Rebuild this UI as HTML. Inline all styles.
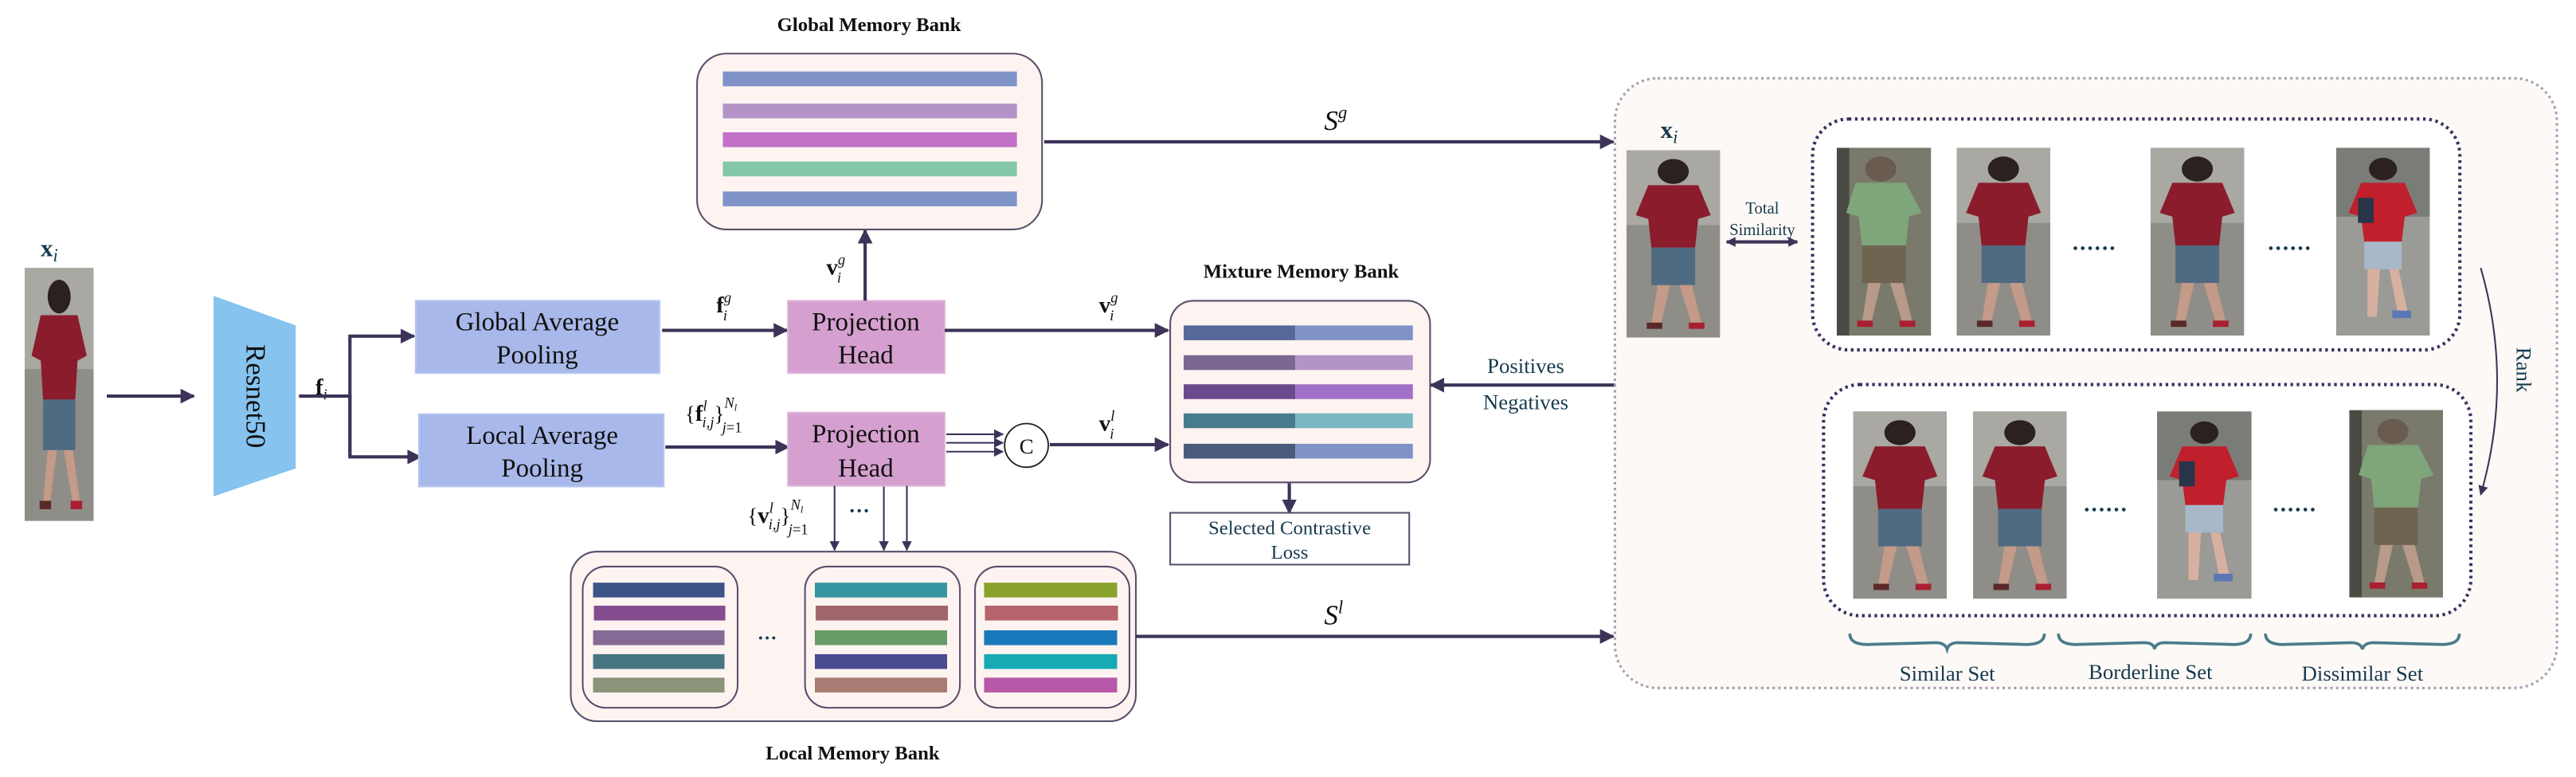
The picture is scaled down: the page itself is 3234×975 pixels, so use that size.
<!DOCTYPE html>
<html><head><meta charset="utf-8"><style>
html,body{margin:0;padding:0;background:#fff;}
svg{display:block;font-family:"Liberation Serif","DejaVu Serif",serif;}
svg text{font-family:"Liberation Serif","DejaVu Serif",serif !important;}
</style></head><body>
<svg width="3234" height="975" viewBox="0 0 1568 472.73" xmlns="http://www.w3.org/2000/svg" font-family="Liberation Serif, DejaVu Serif, serif">
<defs>
<marker id="ahb" viewBox="0 0 10 10" refX="9" refY="5" markerWidth="9" markerHeight="9" orient="auto-start-reverse" markerUnits="userSpaceOnUse"><path d="M0,0 L10,5 L0,10 z" fill="#3d3358"/></marker>
<marker id="ahs" viewBox="0 0 10 10" refX="9" refY="5" markerWidth="6" markerHeight="6" orient="auto-start-reverse" markerUnits="userSpaceOnUse"><path d="M0,0 L10,5 L0,10 z" fill="#3d3358"/></marker>
<symbol id="pr" viewBox="0 0 60 150" preserveAspectRatio="none">
<rect width="60" height="150" fill="#8f8d88"/>
<rect width="60" height="60" fill="#a9a8a3"/>
<circle cx="30" cy="17" r="10" fill="#2b2220"/>
<path d="M14,28 L46,28 L54,52 L46,55 L44,78 L16,78 L14,55 L6,52 Z" fill="#8b1c2c"/>
<rect x="16" y="78" width="28" height="30" fill="#4f6b82"/>
<path d="M20,108 L28,108 L22,140 L16,140 Z" fill="#c49a88"/>
<path d="M34,108 L42,108 L48,138 L42,140 Z" fill="#c49a88"/>
<rect x="13" y="138" width="10" height="5" fill="#5a2a2a"/><rect x="40" y="138" width="10" height="5" fill="#a82030"/>
</symbol>
<symbol id="pg" viewBox="0 0 60 150" preserveAspectRatio="none">
<rect width="60" height="150" fill="#4a4a42"/>
<rect x="8" width="52" height="150" fill="#7a7a6c"/>
<circle cx="28" cy="17" r="10" fill="#6a5a50"/>
<path d="M12,28 L44,28 L54,52 L46,55 L44,78 L16,78 L14,55 L6,52 Z" fill="#7fa67a"/>
<rect x="16" y="78" width="28" height="30" fill="#6e6450"/>
<path d="M20,108 L28,108 L22,140 L16,140 Z" fill="#b89a88"/>
<path d="M34,108 L42,108 L48,138 L42,140 Z" fill="#b89a88"/>
<rect x="13" y="138" width="10" height="5" fill="#a82030"/><rect x="40" y="138" width="10" height="5" fill="#a82030"/>
</symbol>
<symbol id="pw" viewBox="0 0 60 150" preserveAspectRatio="none">
<rect width="60" height="150" fill="#9a9a96"/>
<rect width="60" height="55" fill="#7a7c78"/>
<circle cx="30" cy="17" r="9" fill="#2b2220"/>
<path d="M16,28 L44,28 L52,52 L44,55 L42,75 L18,75 L16,55 L8,52 Z" fill="#c0202c"/>
<rect x="14" y="40" width="10" height="20" fill="#2a3448"/>
<rect x="18" y="75" width="24" height="22" fill="#a8b8c8"/>
<path d="M20,97 L28,97 L26,135 L20,135 Z" fill="#d8b0a0"/>
<path d="M34,97 L40,97 L46,132 L40,135 Z" fill="#d8b0a0"/>
<rect x="36" y="130" width="12" height="6" fill="#5a78b8"/>
</symbol>
</defs>

<!-- Left input -->
<text x="30" y="156" font-size="15" font-weight="bold" fill="#163a4e" text-anchor="middle">x<tspan font-size="11" font-style="italic" font-weight="normal" dy="3">i</tspan></text>
<use href="#pr" x="15" y="163" width="42" height="154"/>
<line x1="65" y1="241" x2="118" y2="241" stroke="#3d3358" stroke-width="2" marker-end="url(#ahb)"/>
<polygon points="130,180 180,198 180,285 130,302" fill="#86c3ee"/>
<text transform="translate(150,241) rotate(90)" font-size="17" text-anchor="middle" fill="#111">Resnet50</text>
<text x="192" y="240" font-size="14" font-weight="bold" fill="#111">f<tspan font-size="9" font-style="italic" font-weight="normal" dy="3">i</tspan></text>
<line x1="182" y1="241" x2="214" y2="241" stroke="#3d3358" stroke-width="2"/>
<polyline points="213,278 213,204.5 252,204.5" fill="none" stroke="#3d3358" stroke-width="2" marker-end="url(#ahb)"/>
<polyline points="213,241 213,278 256,278" fill="none" stroke="#3d3358" stroke-width="2" marker-end="url(#ahb)"/>

<!-- pooling boxes -->
<rect x="253" y="183" width="148.5" height="44" fill="#a8b8ea" stroke="#b8c6f0" stroke-width="1"/>
<text x="327" y="201" font-size="16" text-anchor="middle" fill="#111">Global Average</text>
<text x="327" y="221" font-size="16" text-anchor="middle" fill="#111">Pooling</text>
<rect x="255" y="252" width="149" height="44" fill="#a8b8ea" stroke="#b8c6f0" stroke-width="1"/>
<text x="330" y="270" font-size="16" text-anchor="middle" fill="#111">Local Average</text>
<text x="330" y="290" font-size="16" text-anchor="middle" fill="#111">Pooling</text>

<line x1="403" y1="201" x2="479" y2="201" stroke="#3d3358" stroke-width="2" marker-end="url(#ahb)"/>
<text x="436" y="190" font-size="14" font-weight="bold" fill="#111">f<tspan font-size="9" font-style="italic" font-weight="normal" dy="-6">g</tspan><tspan font-size="9" font-style="italic" font-weight="normal" dx="-5" dy="11">i</tspan></text>
<line x1="405" y1="272" x2="480" y2="272" stroke="#3d3358" stroke-width="2" marker-end="url(#ahb)"/>
<text x="417" y="256" font-size="13" fill="#111">{<tspan font-weight="bold" font-size="14">f</tspan><tspan font-size="9" font-style="italic" dy="-6">l</tspan><tspan font-size="9" font-style="italic" dx="-3" dy="10">i,j</tspan><tspan dy="-4">}</tspan><tspan font-size="9" font-style="italic" dy="-8">N</tspan><tspan font-size="6" font-style="italic" dy="2">l</tspan><tspan font-size="9" font-style="italic" dx="-9" dy="13">j</tspan><tspan font-size="9" dy="0">=1</tspan></text>

<!-- projection heads -->
<rect x="479.6" y="183" width="95.4" height="44" fill="#d5a0cf" stroke="#e0b4da" stroke-width="1"/>
<text x="527" y="201" font-size="16" text-anchor="middle" fill="#111">Projection</text>
<text x="527" y="221" font-size="16" text-anchor="middle" fill="#111">Head</text>
<rect x="479.6" y="251" width="95.4" height="44.6" fill="#d5a0cf" stroke="#e0b4da" stroke-width="1"/>
<text x="527" y="269" font-size="16" text-anchor="middle" fill="#111">Projection</text>
<text x="527" y="290" font-size="16" text-anchor="middle" fill="#111">Head</text>

<line x1="526.6" y1="183" x2="526.6" y2="140" stroke="#3d3358" stroke-width="2" marker-end="url(#ahb)"/>
<text x="503" y="167" font-size="14" font-weight="bold" fill="#111">v<tspan font-size="9" font-style="italic" font-weight="normal" dy="-6">g</tspan><tspan font-size="9" font-style="italic" font-weight="normal" dx="-5" dy="11">i</tspan></text>

<!-- Global memory bank -->
<text x="529" y="19" font-size="12" font-weight="bold" text-anchor="middle" fill="#111">Global Memory Bank</text>
<rect x="424.3" y="32.6" width="210" height="107" rx="18" fill="#fdf4f1" stroke="#5a4e6a" stroke-width="1"/>
<rect x="440" y="43.5" width="179" height="9" fill="#7f93c8"/>
<rect x="440" y="63" width="179" height="9" fill="#b494c8"/>
<rect x="440" y="80.5" width="179" height="9" fill="#c270c8"/>
<rect x="440" y="98.3" width="179" height="9" fill="#84c7a8"/>
<rect x="440" y="116.5" width="179" height="9" fill="#7f93c8"/>
<line x1="635.6" y1="86.3" x2="982" y2="86.3" stroke="#3d3358" stroke-width="2" marker-end="url(#ahb)"/>
<text x="806" y="79" font-size="17" font-style="italic" fill="#111">S<tspan font-size="11" dy="-7">g</tspan></text>

<!-- to mixture -->
<line x1="575" y1="201" x2="711" y2="201" stroke="#3d3358" stroke-width="2" marker-end="url(#ahb)"/>
<text x="669" y="190" font-size="14" font-weight="bold" fill="#111">v<tspan font-size="9" font-style="italic" font-weight="normal" dy="-6">g</tspan><tspan font-size="9" font-style="italic" font-weight="normal" dx="-5" dy="11">i</tspan></text>
<line x1="576" y1="264.2" x2="610.5" y2="264.2" stroke="#3d3358" stroke-width="1" marker-end="url(#ahs)"/>
<line x1="576" y1="269.4" x2="610.5" y2="269.4" stroke="#3d3358" stroke-width="1" marker-end="url(#ahs)"/>
<line x1="576" y1="274.8" x2="610.5" y2="274.8" stroke="#3d3358" stroke-width="1" marker-end="url(#ahs)"/>
<circle cx="624.8" cy="271" r="13.3" fill="#fff" stroke="#222" stroke-width="0.9"/>
<text x="624.8" y="276" font-size="13" text-anchor="middle" fill="#111">C</text>
<line x1="639" y1="270.5" x2="711" y2="270.5" stroke="#3d3358" stroke-width="2" marker-end="url(#ahb)"/>
<text x="669" y="262" font-size="14" font-weight="bold" fill="#111">v<tspan font-size="9" font-style="italic" font-weight="normal" dy="-6">l</tspan><tspan font-size="9" font-style="italic" font-weight="normal" dx="-3" dy="11">i</tspan></text>

<!-- Mixture memory bank -->
<text x="792" y="169" font-size="12" font-weight="bold" text-anchor="middle" fill="#111">Mixture Memory Bank</text>
<rect x="712.3" y="183" width="158.2" height="110.5" rx="14" fill="#fdf4f1" stroke="#5a4e6a" stroke-width="1"/>
<rect x="720.5" y="198" width="68" height="9" fill="#566a9a"/><rect x="788.5" y="198" width="71.5" height="9" fill="#7f93c8"/>
<rect x="720.5" y="216.1" width="68" height="9" fill="#7a6890"/><rect x="788.5" y="216.1" width="71.5" height="9" fill="#b494c8"/>
<rect x="720.5" y="233.8" width="68" height="9" fill="#6a4a8c"/><rect x="788.5" y="233.8" width="71.5" height="9" fill="#a070c8"/>
<rect x="720.5" y="251.5" width="68" height="9" fill="#467c8c"/><rect x="788.5" y="251.5" width="71.5" height="9" fill="#7ab8c4"/>
<rect x="720.5" y="270" width="68" height="9" fill="#4a5a7c"/><rect x="788.5" y="270" width="71.5" height="9" fill="#7f93c8"/>
<line x1="784.8" y1="294" x2="784.8" y2="312" stroke="#3d3358" stroke-width="2" marker-end="url(#ahb)"/>
<rect x="712.3" y="312" width="145.5" height="31.5" fill="#fff" stroke="#5a4e6a" stroke-width="1"/>
<text x="785" y="325" font-size="12" text-anchor="middle" fill="#163a4e">Selected Contrastive</text>
<text x="785" y="340" font-size="12" text-anchor="middle" fill="#163a4e">Loss</text>
<line x1="983" y1="234.3" x2="871" y2="234.3" stroke="#3d3358" stroke-width="2" marker-end="url(#ahb)"/>
<text x="928.7" y="227" font-size="13" text-anchor="middle" fill="#163a4e">Positives</text>
<text x="928.7" y="249" font-size="13" text-anchor="middle" fill="#163a4e">Negatives</text>

<!-- local arrows -->
<line x1="508" y1="295.6" x2="508" y2="334.7" stroke="#3d3358" stroke-width="1" marker-end="url(#ahs)"/>
<line x1="538" y1="296" x2="538" y2="334.7" stroke="#3d3358" stroke-width="1" marker-end="url(#ahs)"/>
<line x1="552" y1="295.6" x2="552" y2="334.7" stroke="#3d3358" stroke-width="1" marker-end="url(#ahs)"/>
<text x="455" y="318" font-size="13" fill="#111">{<tspan font-weight="bold" font-size="14">v</tspan><tspan font-size="9" font-style="italic" dy="-6">l</tspan><tspan font-size="9" font-style="italic" dx="-3" dy="10">i,j</tspan><tspan dy="-4">}</tspan><tspan font-size="9" font-style="italic" dy="-8">N</tspan><tspan font-size="6" font-style="italic" dy="2">l</tspan><tspan font-size="9" font-style="italic" dx="-9" dy="13">j</tspan><tspan font-size="9" dy="0">=1</tspan></text>
<text x="523" y="315" font-size="13" font-weight="bold" text-anchor="middle" fill="#163a4e">···</text>

<!-- Local memory bank -->
<rect x="347.4" y="335.6" width="344" height="103.2" rx="16" fill="#fdf4f1" stroke="#5a4e6a" stroke-width="1"/>
<rect x="354.7" y="344.7" width="94.3" height="85.9" rx="14" fill="#fdf4f1" stroke="#5a4e6a" stroke-width="1"/>
<rect x="490" y="344.7" width="94.3" height="85.9" rx="14" fill="#fdf4f1" stroke="#5a4e6a" stroke-width="1"/>
<rect x="593.5" y="344.7" width="94" height="85.9" rx="14" fill="#fdf4f1" stroke="#5a4e6a" stroke-width="1"/>
<g>
<rect x="361" y="354.5" width="80" height="9" fill="#3d5488"/>
<rect x="361.5" y="368.5" width="80" height="9" fill="#854c90"/>
<rect x="361" y="383.5" width="80" height="9" fill="#856a96"/>
<rect x="361" y="398" width="80" height="9" fill="#477682"/>
<rect x="361" y="412.3" width="80" height="9" fill="#8a9478"/>
<rect x="496" y="354.5" width="80.5" height="9" fill="#3595a0"/>
<rect x="496.5" y="368.5" width="80.5" height="9" fill="#a0656a"/>
<rect x="496" y="383.5" width="80.5" height="9" fill="#689c68"/>
<rect x="496" y="398" width="80.5" height="9" fill="#4a4c90"/>
<rect x="496" y="412.3" width="80.5" height="9" fill="#a87c72"/>
<rect x="599" y="354.5" width="81" height="9" fill="#89a22c"/>
<rect x="599.5" y="368.5" width="81" height="9" fill="#b5636c"/>
<rect x="599" y="383.5" width="81" height="9" fill="#1a78bc"/>
<rect x="599" y="398" width="81" height="9" fill="#17a9b4"/>
<rect x="599" y="412.3" width="81" height="9" fill="#b858a8"/>
</g>
<text x="467" y="392" font-size="12" font-weight="bold" text-anchor="middle" fill="#163a4e">···</text>
<text x="519" y="462" font-size="12" font-weight="bold" text-anchor="middle" fill="#111">Local Memory Bank</text>
<line x1="691.4" y1="387.2" x2="982" y2="387.2" stroke="#3d3358" stroke-width="2" marker-end="url(#ahb)"/>
<text x="806" y="380" font-size="17" font-style="italic" fill="#111">S<tspan font-size="11" dy="-7">l</tspan></text>

<!-- Right panel -->
<rect x="983" y="47.6" width="573.4" height="371" rx="26" fill="#fdf9f6" stroke="#a79fb0" stroke-width="1.5" stroke-dasharray="1.5,2"/>
<text x="1016" y="84" font-size="15" font-weight="bold" fill="#163a4e" text-anchor="middle">x<tspan font-size="11" font-style="italic" font-weight="normal" dy="3">i</tspan></text>
<use href="#pr" x="990" y="91.4" width="57" height="114"/>
<text x="1072.7" y="130" font-size="10" text-anchor="middle" fill="#163a4e">Total</text>
<text x="1072.7" y="143" font-size="10" text-anchor="middle" fill="#163a4e">Similarity</text>
<line x1="1051" y1="147.2" x2="1094" y2="147.2" stroke="#3d3358" stroke-width="2" marker-start="url(#ahs)" marker-end="url(#ahs)"/>

<rect x="1103.3" y="72.4" width="394" height="140.5" rx="22" fill="#fff" stroke="#3a3060" stroke-width="2" stroke-dasharray="1.6,2.2"/>
<use href="#pg" x="1118" y="89.9" width="57.4" height="114.3"/>
<use href="#pr" x="1191" y="89.9" width="57" height="114.3"/>
<use href="#pr" x="1309" y="89.9" width="57" height="114.3"/>
<use href="#pw" x="1422" y="89.9" width="57" height="114.3"/>
<text x="1275" y="152" font-size="14" font-weight="bold" text-anchor="middle" fill="#163a4e" letter-spacing="1">......</text>
<text x="1394" y="152" font-size="14" font-weight="bold" text-anchor="middle" fill="#163a4e" letter-spacing="1">......</text>

<rect x="1110" y="234" width="394" height="140.6" rx="22" fill="#fff" stroke="#3a3060" stroke-width="2" stroke-dasharray="1.6,2.2"/>
<use href="#pr" x="1128" y="250.3" width="57" height="114"/>
<use href="#pr" x="1201" y="250.3" width="57" height="114"/>
<use href="#pw" x="1313" y="250.3" width="57.5" height="114"/>
<use href="#pg" x="1430" y="249.5" width="57" height="114"/>
<text x="1282" y="311" font-size="14" font-weight="bold" text-anchor="middle" fill="#163a4e" letter-spacing="1">......</text>
<text x="1397" y="311" font-size="14" font-weight="bold" text-anchor="middle" fill="#163a4e" letter-spacing="1">......</text>

<path d="M1510,163 Q1530,232 1510,301" fill="none" stroke="#3d3358" stroke-width="1" marker-end="url(#ahs)"/>
<text transform="translate(1532,225) rotate(90)" font-size="13" text-anchor="middle" fill="#163a4e">Rank</text>

<g fill="none" stroke="#4a7c8c" stroke-width="1.8">
<path d="M1126,385.5 Q1126,393 1140,392 L1178,391 Q1184,391 1185.2,395 Q1186.4,391 1192,391 L1230,392 Q1244.4,393 1244.4,385.5"/>
<path d="M1253,385.5 Q1253,393 1267,392 L1305,391 Q1311,391 1311.5,395 Q1312,391 1318,391 L1356,392 Q1370,393 1370,385.5"/>
<path d="M1379,385.5 Q1379,393 1393,392 L1431,391 Q1437,391 1438,395 Q1439,391 1445,391 L1483,392 Q1497,393 1497,385.5"/>
</g>
<text x="1185.3" y="414" font-size="13" text-anchor="middle" fill="#163a4e">Similar Set</text>
<text x="1309" y="413" font-size="13" text-anchor="middle" fill="#163a4e">Borderline Set</text>
<text x="1438" y="414" font-size="13" text-anchor="middle" fill="#163a4e">Dissimilar Set</text>
</svg>
</body></html>
